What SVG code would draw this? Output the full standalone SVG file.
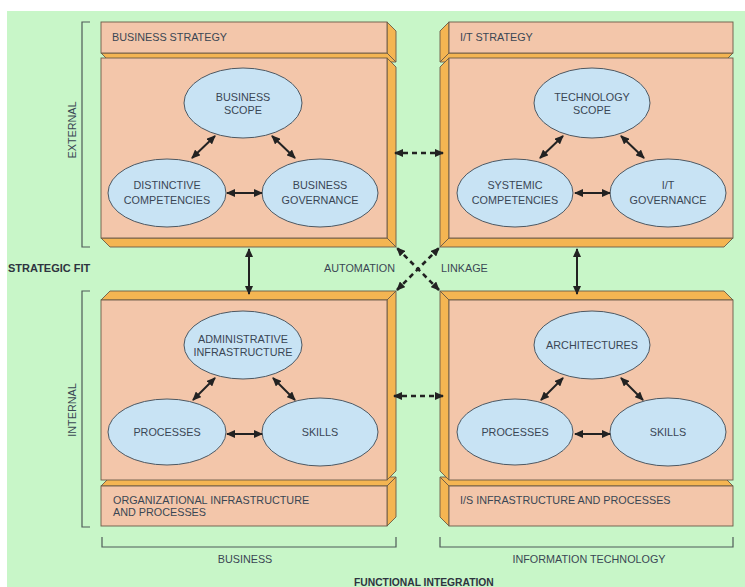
<svg xmlns="http://www.w3.org/2000/svg" width="745" height="587" viewBox="0 0 745 587">
  <style>
    .front { fill: #f3c6aa; stroke: #6a5a48; stroke-width: 0.9; }
    .side { fill: #f4b552; stroke: #6a5a48; stroke-width: 0.9; }
    .oval { fill: #c8e3f4; stroke: #4d5862; stroke-width: 1; }
    .t { font-family: "Liberation Sans", Arial, sans-serif; font-size: 10.8px; fill: #3a4654; }
    .tc { text-anchor: middle; }
    .b { font-family: "Liberation Sans", Arial, sans-serif; font-weight: bold; fill: #2e3440; }
    .bracket { fill: none; stroke: #4f5a58; stroke-width: 1.2; }
    .link { stroke: #222; stroke-width: 2; fill: none; marker-start: url(#head); marker-end: url(#head); }
    .dash { stroke: #222; stroke-width: 2.6; fill: none; stroke-dasharray: 5 4; marker-start: url(#head); marker-end: url(#head); }
  </style>
  <defs>
    <marker id="head" markerUnits="userSpaceOnUse" markerWidth="9" markerHeight="8" refX="8" refY="4" orient="auto-start-reverse">
      <path d="M0,0 L9,4 L0,8 Z" fill="#222"/>
    </marker>
  </defs>

  <!-- page -->
  <rect x="0" y="0" width="745" height="587" fill="#ffffff"/>
  <rect x="7" y="11" width="738" height="576" fill="#c8f6c8"/>

  <!-- side brackets and axis labels -->
  <g id="axes">
    <path class="bracket" d="M90,22 H82 V247 H90"/>
    <path class="bracket" d="M90,291 H82 V527 H90"/>
    <path class="bracket" d="M102,537 V547 H396 V537"/>
    <path class="bracket" d="M440,537 V547 H733 V537"/>
    <text class="t tc" transform="translate(76,130) rotate(-90)">EXTERNAL</text>
    <text class="t tc" transform="translate(76,410) rotate(-90)">INTERNAL</text>
    <text class="b" x="8" y="272" font-size="11">STRATEGIC FIT</text>
    <text class="t tc" x="245" y="563">BUSINESS</text>
    <text class="t tc" x="589" y="563">INFORMATION TECHNOLOGY</text>
    <text class="b" x="354" y="585.5" font-size="10.3">FUNCTIONAL INTEGRATION</text>
  </g>

  <!-- business strategy (external / business) -->
  <g id="business-strategy">
    <polygon class="side" points="387,22 396,31 396,62 387,53"/>
    <polygon class="side" points="101,53 387,53 396,62 110,62"/>
    <rect class="front" x="101" y="22" width="286" height="31"/>
    <text class="t" x="112" y="41">BUSINESS STRATEGY</text>
    <polygon class="side" points="387,58 396,67 396,247 387,238"/>
    <polygon class="side" points="101,238 387,238 396,247 110,247"/>
    <rect class="front" x="101" y="58" width="286" height="180"/>
  </g>

  <!-- I/T strategy (external / IT) -->
  <g id="it-strategy">
    <polygon class="side" points="449,22 440,31 440,62 449,53"/>
    <polygon class="side" points="449,53 733,53 724,62 440,62"/>
    <rect class="front" x="449" y="22" width="284" height="31"/>
    <text class="t" x="460" y="41">I/T STRATEGY</text>
    <polygon class="side" points="449,58 440,67 440,247 449,238"/>
    <polygon class="side" points="449,238 733,238 724,247 440,247"/>
    <rect class="front" x="449" y="58" width="284" height="180"/>
  </g>

  <!-- organizational infrastructure and processes (internal / business) -->
  <g id="org-infrastructure">
    <polygon class="side" points="387,486 396,477 396,517 387,526"/>
    <polygon class="side" points="101,486 110,477 396,477 387,486"/>
    <rect class="front" x="101" y="486" width="286" height="40"/>
    <text class="t" x="113" y="504">ORGANIZATIONAL INFRASTRUCTURE</text>
    <text class="t" x="113" y="516">AND PROCESSES</text>
    <polygon class="side" points="387,300 396,291 396,471 387,480"/>
    <polygon class="side" points="101,300 110,291 396,291 387,300"/>
    <rect class="front" x="101" y="300" width="286" height="180"/>
  </g>

  <!-- I/S infrastructure and processes (internal / IT) -->
  <g id="is-infrastructure">
    <polygon class="side" points="449,486 440,477 440,517 449,526"/>
    <polygon class="side" points="449,486 440,477 724,477 733,486"/>
    <rect class="front" x="449" y="486" width="284" height="40"/>
    <text class="t" x="460" y="504">I/S INFRASTRUCTURE AND PROCESSES</text>
    <polygon class="side" points="449,300 440,291 440,471 449,480"/>
    <polygon class="side" points="449,300 440,291 724,291 733,300"/>
    <rect class="front" x="449" y="300" width="284" height="180"/>
  </g>

  <!-- domain components -->
  <g id="business-scope">
    <ellipse class="oval" cx="243" cy="103" rx="59" ry="35"/>
    <text class="t tc" x="243" y="101">BUSINESS</text>
    <text class="t tc" x="243" y="114">SCOPE</text>
  </g>
  <g id="distinctive-competencies">
    <ellipse class="oval" cx="167" cy="193" rx="59" ry="34"/>
    <text class="t tc" x="167" y="189">DISTINCTIVE</text>
    <text class="t tc" x="167" y="204">COMPETENCIES</text>
  </g>
  <g id="business-governance">
    <ellipse class="oval" cx="320" cy="193" rx="58" ry="34"/>
    <text class="t tc" x="320" y="189">BUSINESS</text>
    <text class="t tc" x="320" y="204">GOVERNANCE</text>
  </g>

  <g id="technology-scope">
    <ellipse class="oval" cx="592" cy="103" rx="58" ry="35"/>
    <text class="t tc" x="592" y="101">TECHNOLOGY</text>
    <text class="t tc" x="592" y="114">SCOPE</text>
  </g>
  <g id="systemic-competencies">
    <ellipse class="oval" cx="515" cy="193" rx="58" ry="34"/>
    <text class="t tc" x="515" y="189">SYSTEMIC</text>
    <text class="t tc" x="515" y="204">COMPETENCIES</text>
  </g>
  <g id="it-governance">
    <ellipse class="oval" cx="668" cy="193" rx="58" ry="34"/>
    <text class="t tc" x="668" y="189">I/T</text>
    <text class="t tc" x="668" y="204">GOVERNANCE</text>
  </g>

  <g id="administrative-infrastructure">
    <ellipse class="oval" cx="243" cy="345" rx="59" ry="34"/>
    <text class="t tc" x="243" y="343">ADMINISTRATIVE</text>
    <text class="t tc" x="243" y="356">INFRASTRUCTURE</text>
  </g>
  <g id="business-processes">
    <ellipse class="oval" cx="167" cy="432" rx="59" ry="33"/>
    <text class="t tc" x="167" y="436">PROCESSES</text>
  </g>
  <g id="business-skills">
    <ellipse class="oval" cx="320" cy="432" rx="58" ry="34"/>
    <text class="t tc" x="320" y="436">SKILLS</text>
  </g>

  <g id="architectures">
    <ellipse class="oval" cx="592" cy="345" rx="58" ry="34"/>
    <text class="t tc" x="592" y="349">ARCHITECTURES</text>
  </g>
  <g id="is-processes">
    <ellipse class="oval" cx="515" cy="432" rx="58" ry="33"/>
    <text class="t tc" x="515" y="436">PROCESSES</text>
  </g>
  <g id="is-skills">
    <ellipse class="oval" cx="668" cy="432" rx="58" ry="34"/>
    <text class="t tc" x="668" y="436">SKILLS</text>
  </g>

  <!-- connectors -->
  <g id="connectors">
    <!-- business strategy triangle -->
    <line class="link" x1="192" y1="158" x2="215" y2="136"/>
    <line class="link" x1="272" y1="136" x2="295" y2="158"/>
    <line class="link" x1="227" y1="193" x2="262" y2="193"/>
    <!-- I/T strategy triangle -->
    <line class="link" x1="540" y1="158" x2="563" y2="136"/>
    <line class="link" x1="621" y1="136" x2="644" y2="158"/>
    <line class="link" x1="575" y1="193" x2="610" y2="193"/>
    <!-- organizational infrastructure triangle -->
    <line class="link" x1="193" y1="400" x2="215" y2="378"/>
    <line class="link" x1="273" y1="378" x2="295" y2="400"/>
    <line class="link" x1="227" y1="434" x2="262" y2="434"/>
    <!-- I/S infrastructure triangle -->
    <line class="link" x1="541" y1="400" x2="563" y2="378"/>
    <line class="link" x1="621" y1="378" x2="643" y2="400"/>
    <line class="link" x1="575" y1="434" x2="610" y2="434"/>

    <!-- strategic fit -->
    <line class="link" x1="249" y1="249" x2="249" y2="294"/>
    <line class="link" x1="577" y1="249" x2="577" y2="294"/>

    <!-- functional integration -->
    <line class="dash" x1="395" y1="153" x2="443" y2="153" stroke-dashoffset="1"/>
    <line class="dash" x1="394" y1="396" x2="443" y2="396" stroke-dashoffset="1"/>

    <!-- cross-domain alignment -->
    <line class="dash" x1="397" y1="248" x2="439" y2="290" stroke-dasharray="5 4" stroke-dashoffset="-0.7"/>
    <line class="dash" x1="439" y1="248" x2="397" y2="290" stroke-dasharray="5 4" stroke-dashoffset="-0.7"/>
    <text class="t" x="395" y="272" text-anchor="end">AUTOMATION</text>
    <text class="t" x="441" y="272">LINKAGE</text>
  </g>
</svg>
